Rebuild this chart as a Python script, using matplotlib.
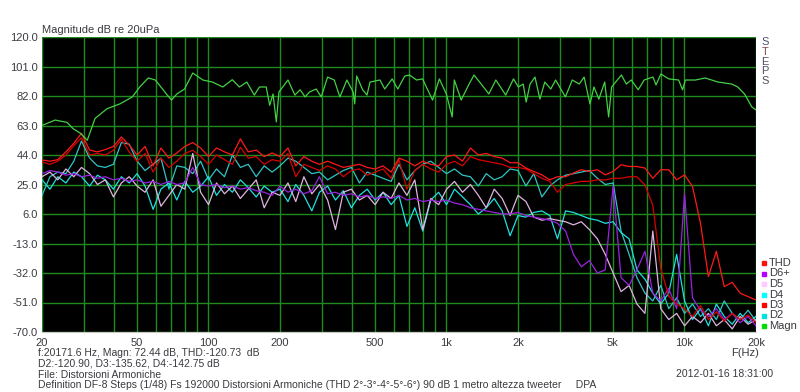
import matplotlib
matplotlib.use("Agg")
import matplotlib.pyplot as plt
from matplotlib.patches import Rectangle

# ---------------- data ----------------
mag_f = [20, 22.7, 25.5, 27, 29, 31, 33.4, 37.5, 42.6, 47.9, 51.5, 55.9, 59.9, 67.2, 70, 73.7, 79.4, 86,
         94.8, 104, 115, 126, 135, 145, 156, 164, 175, 181, 187, 193, 198, 216, 231, 243, 255, 266, 284,
         298, 317, 338, 357, 382, 406, 412, 420, 445, 464, 478, 526, 551, 592, 625, 669, 701, 749, 794,
         875, 935, 1000, 1058, 1080, 1154, 1246, 1307, 1411, 1509, 1614, 1776, 1914, 2007, 2104, 2164,
         2248, 2357, 2472, 2592, 2745, 2878, 3163, 3382, 3616, 3791, 4013, 4170, 4373, 4628, 4807, 4947,
         5440, 5705, 5983, 6399, 6777, 7385, 7600, 7970, 8600, 9460, 9830, 10100, 11130, 12230, 13840,
         15820, 16770, 17900, 19200, 20000]
mag_db = [63, 66.5, 65, 61, 58, 53.5, 67.5, 73.8, 77, 81.4, 87.8, 93.6, 92.3, 82.6, 79.4, 83.3, 86.5, 96.8,
          92.3, 91, 87.8, 92.5, 87.8, 91, 82.6, 87.8, 87.8, 76, 83.3, 65.3, 84.6, 92.3, 82.6, 86, 81.4, 84.6,
          86.5, 81.4, 94.2, 92.3, 81.4, 92.3, 84.6, 76.9, 94.9, 86, 82.6, 91, 92.3, 86.5, 93, 86.5, 94.9,
          95.5, 92.3, 93, 79.4, 93, 83.3, 68.5, 92.3, 79.4, 89.7, 95.5, 89.1, 83.3, 92.3, 82.6, 93, 87.8,
          89.7, 78.1, 89.7, 94.2, 80, 91, 86.5, 92.3, 81.4, 92.3, 89.7, 94.2, 76.9, 87.8, 80, 91, 68.5,
          87.8, 95.5, 89.7, 92.3, 86, 92.3, 94.2, 89.1, 96.2, 93, 92.3, 86, 92.3, 92.3, 93.6, 91, 89.7,
          87.8, 83.3, 75, 73]

freq = [20, 21.6, 23.3, 25.2, 27.2, 29.3, 31.7, 34.2, 36.9, 39.9,
        43.1, 46.5, 50.2, 54.2, 58.6, 63.2, 68.3, 73.7, 79.6, 86.0,
        92.8, 100.2, 108.2, 116.9, 126.2, 136.3, 147.1, 158.9, 171.6, 185.3,
        200, 216, 233, 252, 272, 293, 317, 342, 369, 399,
        431, 465, 502, 542, 586, 632, 683, 737, 796, 860,
        928, 1002, 1082, 1169, 1262, 1363, 1471, 1589, 1716, 1853,
        2000, 2160, 2330, 2520, 2720, 2930, 3170, 3420, 3690, 3990,
        4310, 4650, 5020, 5420, 5860, 6320, 6830, 7370, 7960, 8600,
        9280, 10020, 10820, 11690, 12620, 13630, 14710, 15890, 17160, 18530,
        20000]

thd = [40.8, 40, 41, 46, 51.5, 58, 47.2, 46, 47.5, 49.5,
       55.6, 50.4, 44, 49.5, 36.9, 48.5, 42, 45.3, 49.5, 52,
       48.5, 43, 48.5, 46, 44, 54.4, 46, 47.2, 43, 45.3,
       43, 48.5, 37, 43, 40, 38, 40, 38, 36, 37,
       38, 36, 35, 37, 33, 42, 40, 37, 40, 38,
       37, 43, 44, 40, 48.5, 44, 45, 43, 42, 39,
       39, 35.6, 33.4, 31.2, 28, 30, 30, 32.4, 34.5, 33.4,
       34.5, 31.2, 33.4, 37.7, 36.6, 36.6, 35.6, 29, 34.5, 34.5,
       28, 31.2, 23.7, 0, -34.3, -18, -40.8, -38, -45, -47.2,
       -49.4]

d3 = [39.5, 38, 40, 44, 50, 55, 44, 45, 44, 47,
      54, 46, 40, 45, 33, 42, 36, 40, 45, 47,
      43, 38, 44, 41, 38, 49, 42, 43, 38, 41,
      40, 45, 30, 38, 36, 34, 37, 35, 30, 34,
      35, 31, 33, 35, 29, 41, 22, 34, 38, 35,
      33, 38, 40, 37, 43, 41, 40, 39, 38, 36,
      36, 35, 32, 29, 27, 20, 25, 26, 27, 27,
      28, 28, 29, 29, 30, 30, 24.7, 11.6, -29, -47,
      -52, -55, -60, -53, -62, -57, -63, -58, -62, -59,
      -64]

d2 = [18, 30, 33, 32, 40, 53, 42, 37, 36, 38,
      52, 51, 40, 34, 38, 42, 22, 37, 36, 32,
      40, 28, 35, 30, 44, 36, 38, 30, 37, 33,
      37, 42, 40, 36, 32, 33, 28, 31, 34, 36,
      26, 33, 31, 29, 27, 38, 28, 34, 38, 40,
      36, 32, 35, 31, 30, 24, 32, 28, 30, 35,
      34, 24, 32, 17, 24, 28, 31, 32, 33, 34,
      29, 25, 26, -5, -20, -35, -45, -50, -40, -55,
      -48, -58, -52, -60, -55, -62, -50, -58, -62, -56,
      -63]

d4 = [28, 22, 30, 26, 33, 30, 24, 31, 28, 22,
      30, 26, 32, 24, 9, 22, 26, 15, 27, 20,
      24, 30, 18, 25, 20, 28, 23, 17, 24, 20,
      22, 14, 25, 18, 8, 20, 24, 15, 21, 10,
      18, 22, 15, 20, 12, 18, -2, 10, -5, 15,
      20, 12, 22, 17, 12, 6, 10, 16, 8, -8,
      5, 4, 7, 8, 5, -10, 8, 7, 5, 3,
      2, 0, 1, -6, -10, -30, -36, -45, -52, -45,
      -20, -50, -62, -55, -66, -52, -60, -65, -58, -64,
      -60]

d5 = [30, 33, 28, 35, 30, 36, 32, 25, 28, 17,
      26, 30, 24, 20, 28, 11, 18, 25, 22, 45,
      20, 12, 26, 19, 24, 16, 22, 28, 10, 20,
      18, 26, 14, 30, 19, 25, 15, -4, 20, 22,
      15, 18, 12, 20, 16, 26, 18, 28, -4, 16,
      12, 22, 27, 20, 25, 18, 10, 22, 16, 5,
      18, 14, 4, 2, 3, 2, 1, -1, 1, -4,
      -10, -20, -32, -44, -40, -52, -58, -5, -55, -62,
      -58, -66, -60, -64, -58, -66, -62, -68, -60, -65,
      -62]

d6 = [32, 34, 33, 31, 32, 30, 31, 29, 30, 28,
      29, 27, 28, 26, 27, 25, 27, 25, 26, 36,
      25, 24, 25, 23, 24, 22, 23, 21, 20, 18,
      24, 20, 22, 19, 21, 30, 19, 20, 18, 19,
      17, 18, 16, 17, 16, 18, 15, 16, 14, 15,
      14, 15, 13, 12, 10, 9, 8, 7, 6, 6,
      7, 5, 4, 3, 2, 0, -5, -20, -28, -24,
      -32, -30, 24, -35, -40, -30, -18, -45, -50, -42,
      -55, 19, -48, -56, -60, -55, -62, -58, -64, -60,
      -66]

y_ticks = [-70, -51, -32, -13, 6, 25, 44, 63, 82, 101, 120]
x_major = [20, 50, 100, 200, 500, 1000, 2000, 5000, 10000, 20000]
x_labels = ["20", "50", "100", "200", "500", "1k", "2k", "5k", "10k", "20k"]
x_minor = [30, 40, 60, 70, 80, 90, 300, 400, 600, 700, 800, 900,
           3000, 4000, 6000, 7000, 8000, 9000]

legend_names = ["THD", "D6+", "D5", "D4", "D3", "D2", "Magn"]
legend_colors = ["#ff1010", "#b000ff", "#ffc8ff", "#00ffff", "#ff0000", "#00e0e0", "#00dd00"]

info_lines = ["f:20171.6 Hz, Magn: 72.44 dB, THD:-120.73  dB",
              "D2:-120.90, D3:-135.62, D4:-142.75 dB",
              "File: Distorsioni Armoniche",
              "Definition DF-8 Steps (1/48) Fs 192000 Distorsioni Armoniche (THD 2°-3°-4°-5°-6°) 90 dB 1 metro altezza tweeter     DPA"]

# ---------------- figure ----------------
plt.rcParams['font.family'] = ['Liberation Sans', 'DejaVu Sans']
W, H = 800, 392
fig = plt.figure(figsize=(W / 100, H / 100), dpi=100, facecolor="white")
ax = fig.add_axes([42 / W, 1 - 332 / H, (756 - 42) / W, (332 - 37) / H])
ax.set_facecolor("black")
ax.set_xscale("log")
ax.set_xlim(20, 20000)
ax.set_ylim(-70, 120)

gcol = "#1f8a1f"
ax.set_xticks(x_major)
ax.set_xticklabels(x_labels)
ax.set_xticks(x_minor, minor=True)
ax.set_xticklabels([], minor=True)
ax.set_yticks(y_ticks)
ax.set_yticklabels([f"{v:.1f}" for v in y_ticks])
ax.grid(True, which="both", color=gcol, lw=1.0)
ax.set_axisbelow(True)
ax.tick_params(which="both", length=0, labelsize=8, colors="#3a3a40", pad=3)
ax.tick_params(axis="x", pad=4)
for s in ["top", "left", "right"]:
    ax.spines[s].set_visible(False)
ax.spines["bottom"].set_color("#c8c8c8")

lw = 0.9
ax.plot(freq, d2, color="#30c4c4", lw=lw)
ax.plot(freq, d4, color="#20e0e0", lw=lw)
ax.plot(freq, d5, color="#e0b4e0", lw=lw)
ax.plot(freq, d6, color="#9a22e0", lw=lw)
ax.plot(freq, d3, color="#d80000", lw=lw)
ax.plot(freq, thd, color="#ff1818", lw=lw)
ax.plot(mag_f, mag_db, color="#44d044", lw=lw)

tcol = "#3a3a40"
fig.text(42 / W, 1 - 30 / H, "Magnitude dB re 20uPa", fontsize=8, color=tcol, ha="left", va="center")

steps_colors = ["#505070", "#804848", "#505060", "#505060", "#505060"]
for i, ch in enumerate("STEPS"):
    fig.text(765 / W, 1 - (42 + 9.8 * i) / H, ch, fontsize=8, color=steps_colors[i], ha="center", va="center")

for i, (name, c) in enumerate(zip(legend_names, legend_colors)):
    yc = 263 + 10.5 * i
    fig.patches.append(Rectangle((762 / W, 1 - (yc + 2) / H), 4 / W, 4 / H,
                                 transform=fig.transFigure, color=c))
    fig.text(769 / W, 1 - yc / H, name, fontsize=8, color=tcol, ha="left", va="center")

fig.text(745 / W, 1 - 353 / H, "F(Hz)", fontsize=8, color=tcol, ha="center", va="center")
for i, line in enumerate(info_lines):
    fig.text(38 / W, 1 - (352.5 + 11 * i) / H, line, fontsize=7.5, color=tcol, ha="left", va="center")
fig.text(676 / W, 1 - 374 / H, "2012-01-16 18:31:00", fontsize=7.5, color=tcol, ha="left", va="center")

fig.savefig("out.png", dpi=100, facecolor="white")
